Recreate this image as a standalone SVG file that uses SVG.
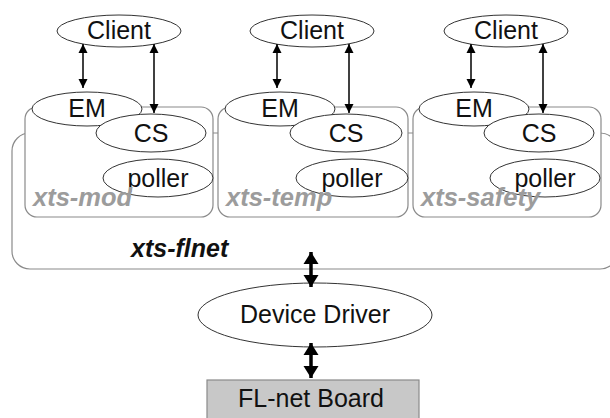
<svg xmlns="http://www.w3.org/2000/svg" width="610" height="418" viewBox="0 0 610 418">
  <style>
    .box { fill: #fff; stroke: #8a8a8a; stroke-width: 1.2; }
    .ell { fill: #fff; stroke: #333; stroke-width: 1; }
    .lbl { font-family: "Liberation Sans", Arial, sans-serif; font-size: 25px; fill: #111; text-anchor: middle; }
    .proc { font-family: "Liberation Sans", Arial, sans-serif; font-size: 25.5px; font-weight: bold; font-style: italic; fill: #9c9c9c; }
    .net { font-family: "Liberation Sans", Arial, sans-serif; font-size: 25px; font-weight: bold; font-style: italic; fill: #111; }
    .thin { stroke: #000; stroke-width: 1.5; fill: none; marker-start: url(#hs); marker-end: url(#he); }
    .thick { stroke: #000; stroke-width: 3.5; fill: none; marker-start: url(#bs); marker-end: url(#be); }
  </style>
  <defs>
    <marker id="he" markerUnits="userSpaceOnUse" markerWidth="10" markerHeight="10" refX="9" refY="4.5" orient="auto">
      <path d="M0,0 L9,4.5 L0,9 Z" fill="#000"/>
    </marker>
    <marker id="hs" markerUnits="userSpaceOnUse" markerWidth="10" markerHeight="10" refX="0" refY="4.5" orient="auto">
      <path d="M9,0 L0,4.5 L9,9 Z" fill="#000"/>
    </marker>
    <marker id="be" markerUnits="userSpaceOnUse" markerWidth="14" markerHeight="16" refX="12" refY="7.5" orient="auto">
      <path d="M0,0 L12,7.5 L0,15 Z" fill="#000"/>
    </marker>
    <marker id="bs" markerUnits="userSpaceOnUse" markerWidth="14" markerHeight="16" refX="0" refY="7.5" orient="auto">
      <path d="M12,0 L0,7.5 L12,15 Z" fill="#000"/>
    </marker>
  </defs>

  <rect width="610" height="418" fill="#fff"/>

  <!-- shared network process -->
  <g id="xts-flnet">
    <rect class="box" x="12" y="133" width="606" height="136" rx="18"/>
    <text class="net" x="131" y="257">xts-flnet</text>
  </g>

  <!-- process: xts-mod -->
  <g id="xts-mod">
    <rect class="box" x="25" y="107" width="188" height="110" rx="12"/>
    <ellipse class="ell" cx="87" cy="109" rx="55" ry="17"/>
    <text class="lbl" x="87" y="117">EM</text>
    <ellipse class="ell" cx="151" cy="133" rx="55" ry="19"/>
    <text class="lbl" x="151" y="142">CS</text>
    <ellipse class="ell" cx="158" cy="178" rx="55" ry="19"/>
    <text class="lbl" x="158" y="187">poller</text>
    <text class="proc" x="33" y="206">xts-mod</text>
  </g>

  <!-- process: xts-temp -->
  <g id="xts-temp">
    <rect class="box" x="218" y="107" width="190" height="110" rx="12"/>
    <ellipse class="ell" cx="280" cy="109" rx="55" ry="17"/>
    <text class="lbl" x="280" y="117">EM</text>
    <ellipse class="ell" cx="346" cy="133" rx="56" ry="19"/>
    <text class="lbl" x="346" y="142">CS</text>
    <ellipse class="ell" cx="352" cy="178" rx="56" ry="19"/>
    <text class="lbl" x="352" y="187">poller</text>
    <text class="proc" x="226" y="206">xts-temp</text>
  </g>

  <!-- process: xts-safety -->
  <g id="xts-safety">
    <rect class="box" x="413" y="107" width="188" height="110" rx="12"/>
    <ellipse class="ell" cx="474" cy="109" rx="55" ry="17"/>
    <text class="lbl" x="474" y="117">EM</text>
    <ellipse class="ell" cx="539" cy="133" rx="55" ry="19"/>
    <text class="lbl" x="539" y="142">CS</text>
    <ellipse class="ell" cx="545" cy="178" rx="55" ry="19"/>
    <text class="lbl" x="545" y="187">poller</text>
    <text class="proc" x="421" y="206">xts-safety</text>
  </g>

  <!-- clients -->
  <g id="client-mod">
    <ellipse class="ell" cx="119" cy="31" rx="62" ry="16"/>
    <text class="lbl" x="119" y="39">Client</text>
  </g>
  <g id="client-temp">
    <ellipse class="ell" cx="312" cy="31" rx="62" ry="16"/>
    <text class="lbl" x="312" y="39">Client</text>
  </g>
  <g id="client-safety">
    <ellipse class="ell" cx="506" cy="31" rx="62" ry="16"/>
    <text class="lbl" x="506" y="39">Client</text>
  </g>

  <!-- driver and board -->
  <g id="device-driver">
    <ellipse class="ell" cx="315" cy="315" rx="117" ry="32"/>
    <text class="lbl" x="315" y="323">Device Driver</text>
  </g>
  <g id="flnet-board">
    <rect x="207" y="380" width="212" height="44" fill="#c8c8c8" stroke="#8a8a8a" stroke-width="1.2"/>
    <text class="lbl" x="311" y="407">FL-net Board</text>
  </g>

  <!-- connectors -->
  <g id="connectors">
    <line class="thin" x1="83" y1="44" x2="83" y2="88"/>
    <line class="thin" x1="154" y1="44" x2="154" y2="113"/>
    <line class="thin" x1="277" y1="44" x2="277" y2="88"/>
    <line class="thin" x1="349" y1="44" x2="349" y2="113"/>
    <line class="thin" x1="471" y1="44" x2="471" y2="88"/>
    <line class="thin" x1="543" y1="44" x2="543" y2="113"/>
    <line class="thick" x1="311" y1="252" x2="311" y2="287"/>
    <line class="thick" x1="311" y1="343" x2="311" y2="378"/>
  </g>
</svg>
